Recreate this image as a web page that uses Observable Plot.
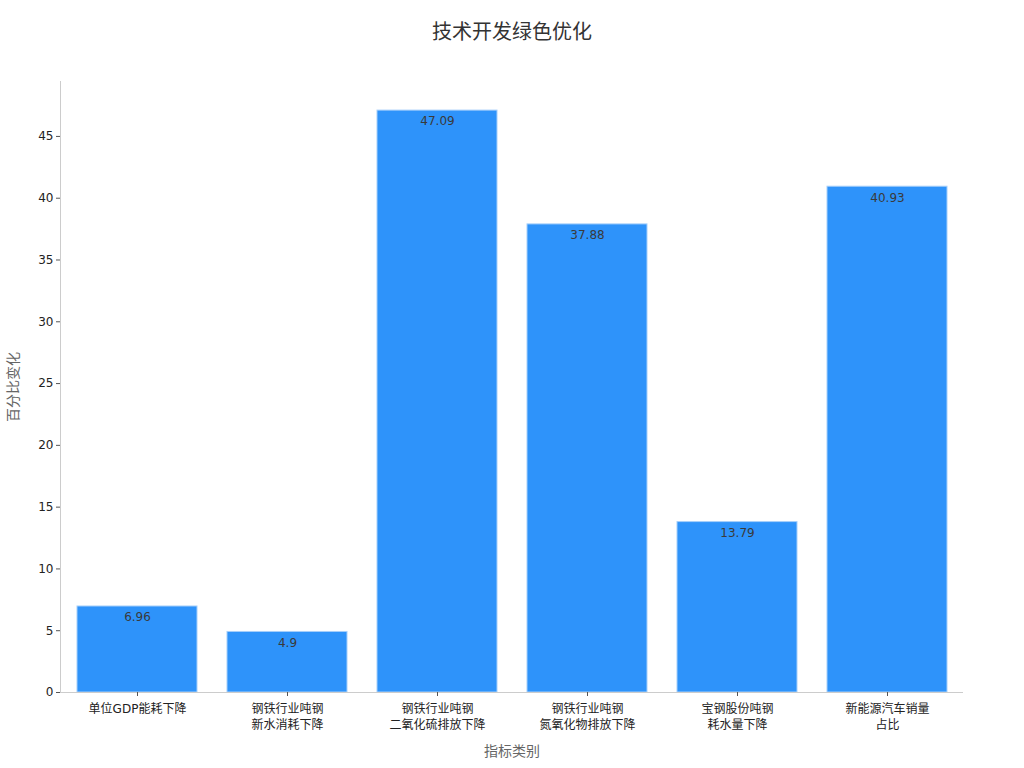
<!DOCTYPE html>
<html><head><meta charset="utf-8">
<script src="https://cdn.jsdelivr.net/npm/d3@7"></script>
<script src="https://cdn.jsdelivr.net/npm/@observablehq/plot@0.6"></script>
<style>
body{margin:0;background:#fff;font-family:"DejaVu Sans","Noto Sans CJK SC",sans-serif;}
#title{height:60px;line-height:64px;text-align:center;font-size:20px;color:#333;font-family:"DejaVu Sans","Noto Sans CJK SC",sans-serif;}
</style></head>
<body>
<div id="title">技术开发绿色优化</div>
<div id="chart"></div>
<script>
const categories = ["单位GDP能耗下降","钢铁行业吨钢\n新水消耗下降","钢铁行业吨钢\n二氧化硫排放下降","钢铁行业吨钢\n氮氧化物排放下降","宝钢股份吨钢\n耗水量下降","新能源汽车销量\n占比"];
const values = [6.96, 4.9, 47.09, 37.88, 13.79, 40.93];
const yTicks = [0,5,10,15,20,25,30,35,40,45];
const data = categories.map((c,i)=>({category:c, value:values[i]}));
const font = "DejaVu Sans, Noto Sans CJK SC, sans-serif";
const chart = Plot.plot({
  width: 1024, height: 708,
  marginTop: 21, marginBottom: 76, marginLeft: 60, marginRight: 61,
  style: {fontFamily: font, fontSize: "12px", color: "#333", background: "#fff"},
  x: {domain: categories, paddingInner: 0.2, paddingOuter: 0.1},
  y: {domain: [0, Math.max(...values)*1.05]},
  marks: [
    Plot.barY(data, {x:"category", y:"value", fill:"#2e93fa", stroke:"#a6cffa", strokeWidth:1}),
    Plot.text(data, {x:"category", y:"value", text:d=>String(d.value), dy:11, fill:"#3a3a3a", fontSize:12}),
    Plot.ruleY([0], {stroke:"#ccc"}),
    Plot.frame({anchor:"left", stroke:"#ccc"}),
    Plot.axisY({ticks: yTicks, tickSize: 4, stroke:"#555", tickPadding: 3, fontSize: 12, fill:"#222",
      label: "百分比变化", labelAnchor:"center", labelArrow:"none", labelOffset: 52}),
    Plot.axisX({tickSize: 4, stroke:"#555", tickPadding: 5, fontSize: 12, fill:"#222", lineHeight: 1.35,
      label: "指标类别", labelAnchor:"center", labelArrow:"none", labelOffset: 63})
  ]
});
document.getElementById("chart").appendChild(chart);
chart.querySelectorAll("g[aria-label='y-axis label'] text, g[aria-label='x-axis label'] text").forEach(t=>{t.setAttribute("font-size","14");t.setAttribute("fill","#666");});
</script>
</body></html>
